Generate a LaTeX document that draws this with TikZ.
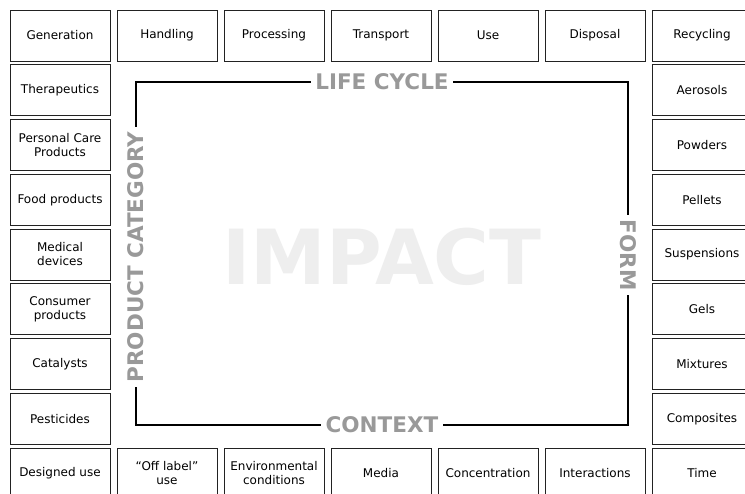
\documentclass[tikz,border=0pt]{standalone}
\usepackage{fontspec}
\setmainfont{DejaVu Sans}
\definecolor{labgray}{HTML}{999999}
\definecolor{impgray}{HTML}{EEEEEE}
\definecolor{boxline}{HTML}{222222}
\begin{document}
\begin{tikzpicture}[x=1pt,y=-1pt,
  cell/.style={draw=boxline, line width=0.8pt, minimum width=100pt, minimum height=51pt,
     inner sep=0pt, align=center, font=\fontsize{12}{14}\selectfont, text=black},
  axislab/.style={fill=white, inner sep=4.5pt, text=labgray, font=\fontsize{21.5}{23}\selectfont\bfseries}]
\useasboundingbox (0,0) rectangle (745,494);
\clip (0,0) rectangle (745,494);
\fill[white] (0,0) rectangle (745,494);
% top row
\foreach \t [count=\i from 0] in {Generation,Handling,Processing,Transport,Use,Disposal,Recycling}
  \node[cell] (top\i) at ({60+107*\i},35.5) {\t};
% left column
\foreach \t [count=\j from 1] in {Therapeutics,{Personal Care\\Products},Food products,{Medical\\devices},{Consumer\\products},Catalysts,Pesticides}
  \node[cell] (left\j) at (60,{35.5+54.75*\j}) {\t};
% right column
\foreach \t [count=\j from 1] in {Aerosols,Powders,Pellets,Suspensions,Gels,Mixtures,Composites}
  \node[cell] (right\j) at (702,{35.5+54.75*\j}) {\t};
% bottom row
\foreach \t [count=\i from 0] in {Designed use,{“Off label”\\use},{Environmental\\conditions},Media,Concentration,Interactions,Time}
  \node[cell] (bot\i) at ({60+107*\i},473.5) {\t};
% frame
\draw[line width=2pt, black] (136,82) rectangle (628,425);
\node[font=\fontsize{76}{80}\selectfont\bfseries, text=impgray] (impact) at (382,257) {IMPACT};
\node[axislab] (lifecycle) at (382,82) {LIFE CYCLE};
\node[axislab] (context) at (382,425) {CONTEXT};
\node[axislab, rotate=90] (category) at (136,257) {PRODUCT CATEGORY};
\node[axislab, rotate=-90] (form) at (628,255) {FORM};
\end{tikzpicture}
\end{document}
